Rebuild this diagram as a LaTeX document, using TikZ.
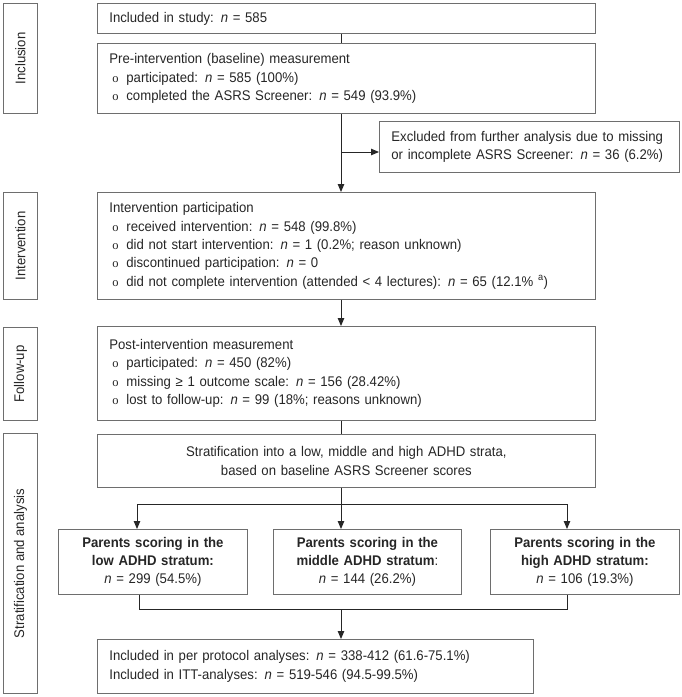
\documentclass[tikz,border=0pt]{standalone}
\usepackage{fontspec}
\setmainfont{Liberation Sans}[FakeStretch=0.94]
\newfontfamily\bulletfont{Liberation Serif}
\usetikzlibrary{arrows.meta}
\definecolor{boxline}{HTML}{6E6E6E}
\definecolor{txt}{HTML}{262626}
\newcommand{\bul}{\hspace*{3pt}\makebox[14pt][l]{\bulletfont\fontsize{12.5}{18.3}\selectfont o}}
\newcommand{\nn}{\textit{n}}
\begin{document}
\begin{tikzpicture}[x=1pt,y=-1pt,
  box/.style={draw=boxline, line width=0.8pt, anchor=north west, inner xsep=12pt, inner ysep=0pt,
    align=left, font=\fontsize{14}{18.3}\selectfont, text=txt},
  cbox/.style={box, align=center},
  lbl/.style={draw=boxline, line width=0.8pt, anchor=north west, inner sep=0pt, minimum width=34pt,
    font=\fontsize{14}{16}\selectfont, text=txt},
  conn/.style={line width=0.9pt, draw=black!85},
  arr/.style={conn, -{Triangle[length=8pt,width=6.5pt]}}]
\useasboundingbox (0,0) rectangle (681,697);

% side labels
\node[lbl, minimum height=110pt] (Linc) at (3,3) {\rotatebox{90}{Inclusion}};
\node[lbl, minimum height=107pt] (Lint) at (3,192) {\rotatebox{90}{Intervention}};
\node[lbl, minimum height=93pt] (Lfu) at (3,327) {\rotatebox{90}{Follow-up}};
\node[lbl, minimum height=260pt] (Lsa) at (3,433) {\rotatebox{90}{Stratification and analysis}};

% main boxes
\node[box, minimum width=498pt, minimum height=30pt, text width=474pt] (inc) at (97,3)
  {Included in study: \nn{} = 585};
\node[box, minimum width=498pt, minimum height=70pt, text width=474pt] (pre) at (97,43)
  {Pre-intervention (baseline) measurement\\
   \bul participated: \nn{} = 585 (100\%)\\
   \bul completed the ASRS Screener: \nn{} = 549 (93.9\%)};
\node[box, minimum width=300pt, minimum height=51pt, text width=276pt] (exc) at (379,121)
  {Excluded from further analysis due to missing\\
   or incomplete ASRS Screener: \nn{} = 36 (6.2\%)};
\node[box, minimum width=498pt, minimum height=107pt, text width=474pt] (int) at (97,192)
  {Intervention participation\\
   \bul received intervention: \nn{} = 548 (99.8\%)\\
   \bul did not start intervention: \nn{} = 1 (0.2\%; reason unknown)\\
   \bul discontinued participation: \nn{} = 0\\
   \bul did not complete intervention (attended < 4 lectures): \nn{} = 65 (12.1\% \textsuperscript{a})};
\node[box, minimum width=498pt, minimum height=94pt, text width=474pt] (post) at (97,326)
  {Post-intervention measurement\\
   \bul participated: \nn{} = 450 (82\%)\\
   \bul missing ≥ 1 outcome scale: \nn{} = 156 (28.42\%)\\
   \bul lost to follow-up: \nn{} = 99 (18\%; reasons unknown)};
\node[cbox, minimum width=498pt, minimum height=53pt, text width=474pt] (strat) at (97,434)
  {Stratification into a low, middle and high ADHD strata,\\
   based on baseline ASRS Screener scores};
\node[cbox, minimum width=189pt, minimum height=65pt, text width=170pt, inner xsep=9.5pt] (low) at (58,529)
  {\textbf{Parents scoring in the}\\ \textbf{low ADHD stratum:}\\ \nn{} = 299 (54.5\%)};
\node[cbox, minimum width=188pt, minimum height=65pt, text width=170pt, inner xsep=9pt] (mid) at (273,529)
  {\textbf{Parents scoring in the}\\ \textbf{middle ADHD stratum}:\\ \nn{} = 144 (26.2\%)};
\node[cbox, minimum width=189pt, minimum height=65pt, text width=170pt, inner xsep=9.5pt] (high) at (490,529)
  {\textbf{Parents scoring in the}\\ \textbf{high ADHD stratum:}\\ \nn{} = 106 (19.3\%)};
\node[box, minimum width=436pt, minimum height=54pt, text width=412pt] (fin) at (97,639)
  {Included in per protocol analyses: \nn{} = 338-412 (61.6-75.1\%)\\
   Included in ITT-analyses: \nn{} = 519-546 (94.5-99.5\%)};

% connectors
\coordinate (ax) at (341,0);
\coordinate (br) at (341,152);
\coordinate (hl) at (137,504);
\coordinate (hr) at (567,504);
\coordinate (bl) at (139,609);
\coordinate (bR) at (567,609);
\draw[conn] (ax |- inc.south) -- (ax |- pre.north);
\draw[arr] (ax |- pre.south) -- (ax |- int.north);
\draw[arr] (br) -- (br -| exc.west);
\draw[arr] (ax |- int.south) -- (ax |- post.north);
\draw[conn] (ax |- post.south) -- (ax |- strat.north);
\draw[conn] (ax |- strat.south) -- (ax |- hl);
\draw[conn] (hl) -- (hr);
\draw[arr] (hl) -- (hl |- low.north);
\draw[arr] (ax |- hl) -- (ax |- mid.north);
\draw[arr] (hr) -- (hr |- high.north);
\draw[conn] (bl |- low.south) -- (bl) -- (bR) -- (bR |- high.south);
\draw[arr] (ax |- bl) -- (ax |- fin.north);
\end{tikzpicture}
\end{document}
